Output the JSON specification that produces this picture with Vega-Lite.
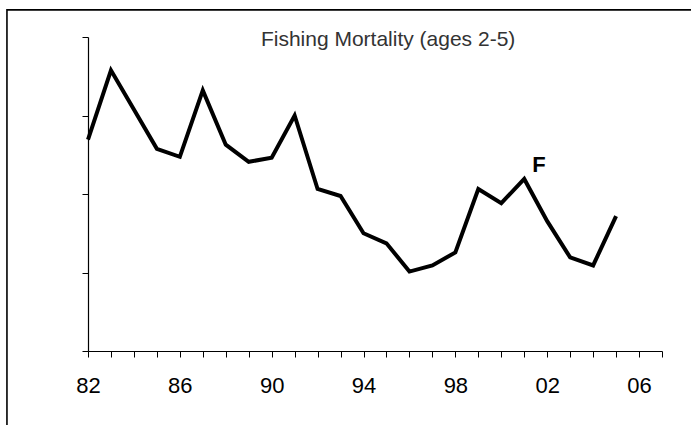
{
  "$schema": "https://vega.github.io/schema/vega-lite/v6.json",
  "width": 574,
  "height": 314,
  "autosize": "none",
  "padding": {"left": 88, "top": 37, "right": 29, "bottom": 74},
  "background": "white",
  "config": {"view": {"stroke": null}, "font": "Liberation Sans"},
  "datasets": {
    "f": [
      {"year": 1982, "F": 1.346},
      {"year": 1983, "F": 1.788},
      {"year": 1984, "F": 1.538},
      {"year": 1985, "F": 1.288},
      {"year": 1986, "F": 1.237},
      {"year": 1987, "F": 1.66},
      {"year": 1988, "F": 1.314},
      {"year": 1989, "F": 1.205},
      {"year": 1990, "F": 1.231},
      {"year": 1991, "F": 1.5},
      {"year": 1992, "F": 1.032},
      {"year": 1993, "F": 0.987},
      {"year": 1994, "F": 0.75},
      {"year": 1995, "F": 0.686},
      {"year": 1996, "F": 0.506},
      {"year": 1997, "F": 0.545},
      {"year": 1998, "F": 0.628},
      {"year": 1999, "F": 1.032},
      {"year": 2000, "F": 0.942},
      {"year": 2001, "F": 1.096},
      {"year": 2002, "F": 0.827},
      {"year": 2003, "F": 0.596},
      {"year": 2004, "F": 0.545},
      {"year": 2005, "F": 0.859}
    ],
    "labels": [
      {"year": 1995.07, "F": 1.94, "text": "Fishing Mortality (ages 2-5)", "kind": "title"},
      {"year": 2001.64, "F": 1.141, "text": "F", "kind": "series"}
    ],
    "frame": [
      {"year": 1978.47, "year2": 2012, "F": 2.173, "F2": -1}
    ]
  },
  "encoding": {
    "x": {
      "field": "year", "type": "quantitative",
      "scale": {"domain": [1982, 2007], "nice": false, "zero": false},
      "axis": {
        "title": null,
        "values": [1982,1983,1984,1985,1986,1987,1988,1989,1990,1991,1992,1993,1994,1995,1996,1997,1998,1999,2000,2001,2002,2003,2004,2005,2006,2007],
        "labelExpr": "datum.value % 4 == 2 ? slice(toString(datum.value), 2) : ''",
        "grid": false,
        "domainColor": "black",
        "domainWidth": 1.2,
        "tickColor": "black",
        "tickSize": 6,
        "tickWidth": 1,
        "labelFontSize": 22,
        "labelColor": "black",
        "labelPadding": 18,
        "labelFlush": false,
        "labelOverlap": false
      }
    },
    "y": {
      "field": "F", "type": "quantitative",
      "scale": {"domain": [0, 2], "nice": false, "zero": true},
      "axis": {
        "title": null,
        "values": [0, 0.5, 1, 1.5, 2],
        "labels": false,
        "grid": false,
        "domainColor": "black",
        "domainWidth": 1.2,
        "tickColor": "black",
        "tickSize": 6,
        "tickWidth": 1
      }
    }
  },
  "layer": [
    {
      "data": {"name": "frame"},
      "mark": {"type": "rect", "fill": null, "stroke": "black", "strokeWidth": 1.6, "clip": false},
      "encoding": {
        "x2": {"field": "year2"},
        "y2": {"field": "F2"}
      }
    },
    {
      "data": {"name": "f"},
      "mark": {"type": "line", "color": "black", "strokeWidth": 4, "strokeJoin": "miter"}
    },
    {
      "data": {"name": "labels"},
      "transform": [{"filter": "datum.kind == 'title'"}],
      "mark": {"type": "text", "fontSize": 21, "color": "#333333", "align": "center", "baseline": "alphabetic"},
      "encoding": {
        "text": {"field": "text"}
      }
    },
    {
      "data": {"name": "labels"},
      "transform": [{"filter": "datum.kind == 'series'"}],
      "mark": {"type": "text", "fontSize": 22, "fontWeight": "bold", "color": "black", "align": "center", "baseline": "alphabetic"},
      "encoding": {
        "text": {"field": "text"}
      }
    }
  ]
}
